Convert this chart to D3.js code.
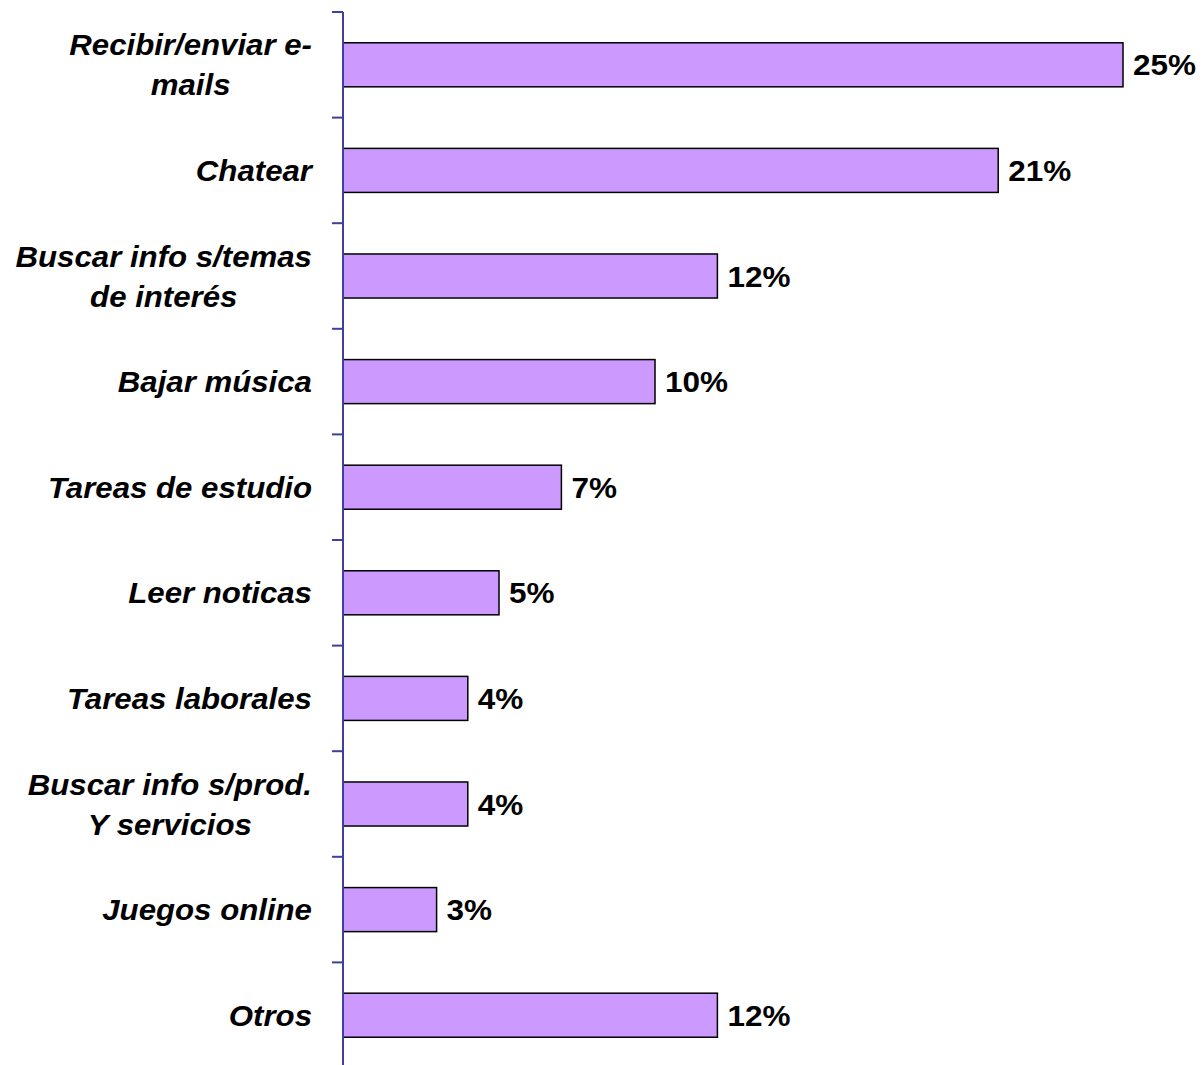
<!DOCTYPE html>
<html>
<head>
<meta charset="utf-8">
<script src="https://cdn.jsdelivr.net/npm/d3@7"></script>
<style>
  html, body { margin: 0; padding: 0; background: #ffffff; }
  svg { display: block; }
  text { font-family: "Liberation Sans", Arial, sans-serif; font-weight: bold; fill: #000; }
</style>
</head>
<body>
<svg id="chart" width="1203" height="1065"></svg>
<script>
// Activities (each entry is the list of lines of its label)
const categories = [
  ["Recibir/enviar e-", "mails"],
  ["Chatear"],
  ["Buscar info s/temas", "de interés"],
  ["Bajar música"],
  ["Tareas de estudio"],
  ["Leer noticas"],
  ["Tareas laborales"],
  ["Buscar info s/prod.", "Y servicios"],
  ["Juegos online"],
  ["Otros"]
];
// Share of use, in percent
const values = [25, 21, 12, 10, 7, 5, 4, 4, 3, 12];
const valueLabels = ["25%", "21%", "12%", "10%", "7%", "5%", "4%", "4%", "3%", "12%"];

const svg = d3.select("#chart");
const keys = categories.map((c, i) => i);

const axisX = 343, plotTop = 12, plotBottom = 1068;
const x = d3.scaleLinear().domain([0, 25]).range([axisX, 1123]);
const y = d3.scaleBand().domain(keys).range([plotTop, plotBottom])
  .paddingInner(0.583).paddingOuter(0.2915);

// Bars
svg.append("g").selectAll("rect")
  .data(keys)
  .join("rect")
  .attr("x", x(0))
  .attr("y", i => y(i))
  .attr("width", i => x(values[i]) - x(0))
  .attr("height", y.bandwidth())
  .attr("fill", "#cc99ff")
  .attr("stroke", "#000")
  .attr("stroke-width", 1.5);

// Category axis: vertical line with ticks between the bands
const axisColor = "#3f3f9c";
const ag = svg.append("g");
ag.append("line")
  .attr("x1", axisX).attr("x2", axisX)
  .attr("y1", plotTop).attr("y2", 1065)
  .attr("stroke", axisColor).attr("stroke-width", 2);
ag.selectAll("line.tick")
  .data(keys)
  .join("line")
  .attr("class", "tick")
  .attr("x1", axisX - 11).attr("x2", axisX)
  .attr("y1", i => y(i) - y.step() * y.paddingInner() / 2)
  .attr("y2", i => y(i) - y.step() * y.paddingInner() / 2)
  .attr("stroke", axisColor).attr("stroke-width", 2);

// Category labels: right-aligned block, lines centred within it, slightly wide type
const labelRight = 312, fs = 30, lineGap = 40, labelStretch = 1.04, valueStretch = 1.05;
const lg = svg.append("g");
keys.forEach(i => {
  const lines = categories[i];
  const cy = y(i) + y.bandwidth() / 2;
  const g = lg.append("g");
  const texts = lines.map((ln, k) => g.append("text")
    .attr("font-size", fs)
    .attr("font-style", "italic")
    .attr("text-anchor", "middle")
    .datum(cy + fs * 0.35 + (k - (lines.length - 1) / 2) * lineGap)
    .text(ln));
  const maxW = d3.max(texts, t => t.node().getComputedTextLength()) * labelStretch;
  const cx = labelRight - maxW / 2;
  texts.forEach(t => t.attr("transform", d => `translate(${cx},${d}) scale(${labelStretch},1)`));
});

// Value labels
svg.append("g").selectAll("text")
  .data(keys)
  .join("text")
  .attr("transform", i =>
    `translate(${x(values[i]) + 10},${y(i) + y.bandwidth() / 2 + fs * 0.35}) scale(${valueStretch},1)`)
  .attr("font-size", fs)
  .text(i => valueLabels[i]);
</script>
</body>
</html>
